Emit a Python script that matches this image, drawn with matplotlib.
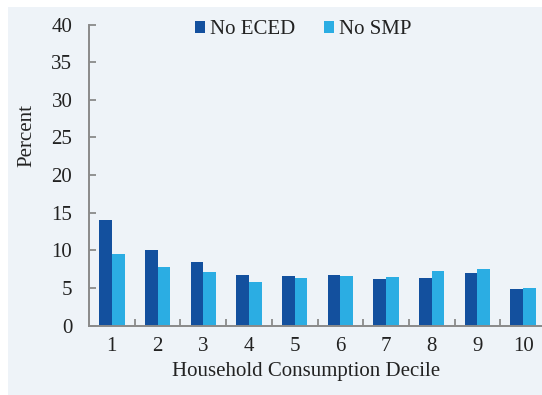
import matplotlib
matplotlib.use("Agg")
import matplotlib.pyplot as plt
import numpy as np
from matplotlib.patches import Rectangle

deciles = ["1", "2", "3", "4", "5", "6", "7", "8", "9", "10"]
no_eced = [14.0, 10.05, 8.45, 6.7, 6.65, 6.7, 6.25, 6.3, 7.0, 4.9]
no_smp = [9.5, 7.75, 7.1, 5.8, 6.3, 6.55, 6.45, 7.2, 7.5, 5.0]

eced_color = "#13509E"
smp_color = "#2BADE3"
panel_color = "#EEF3F8"
axis_color = "#8A8A8A"
fs = 15

plt.rcParams["font.family"] = ["Liberation Serif", "DejaVu Serif"]

fig = plt.figure(figsize=(5.42, 3.95), dpi=100)
fig.patch.set_facecolor("white")
# light blue panel behind the chart
fig.patches.append(Rectangle((8 / 542, 0), 1, 1 - 7 / 395, transform=fig.transFigure,
                             facecolor=panel_color, edgecolor="none", zorder=-10))

ax = fig.add_axes([89 / 542, 69.3 / 395, 457 / 542, 301.2 / 395])
ax.set_facecolor("none")

x = np.arange(1, len(deciles) + 1)
w = 0.278
ax.bar(x - w / 2, no_eced, w, color=eced_color, label="No ECED")
ax.bar(x + w / 2, no_smp, w, color=smp_color, label="No SMP")

ax.set_xlim(0.5, 10.5)
ax.set_ylim(0, 40)
ax.set_yticks(np.arange(0, 41, 5))

ax.set_xticks(x)
ax.set_xticklabels(deciles)
ax.set_xticks(np.arange(1.5, 11, 1), minor=True)
ax.tick_params(axis="x", which="major", length=0, pad=8, labelsize=fs, labelcolor="#222222")
ax.tick_params(axis="x", which="minor", direction="in", length=5, width=1.3, color=axis_color)
ax.tick_params(axis="y", direction="in", length=5, width=1.3, color=axis_color, pad=12,
               labelsize=fs, labelcolor="#222222")

for s in ["top", "right"]:
    ax.spines[s].set_visible(False)
for s in ["left", "bottom"]:
    ax.spines[s].set_color(axis_color)
    ax.spines[s].set_linewidth(1.4)

ax.set_ylabel("Percent", fontsize=fs, color="#222222")
ax.yaxis.set_label_coords(-0.115, 0.63)
ax.set_xlabel("Household Consumption Decile", fontsize=fs, color="#222222")
ax.xaxis.set_label_coords(0.476, -0.122)

ax.legend(loc="center", bbox_to_anchor=(303 / 542, 1 - 30 / 395),
          bbox_transform=fig.transFigure, ncol=2, frameon=False,
          fontsize=fs, handlelength=0.5, handleheight=0.5,
          handletextpad=0.2, columnspacing=1.4, labelcolor="#222222")

fig.savefig("out.png", dpi=100)
